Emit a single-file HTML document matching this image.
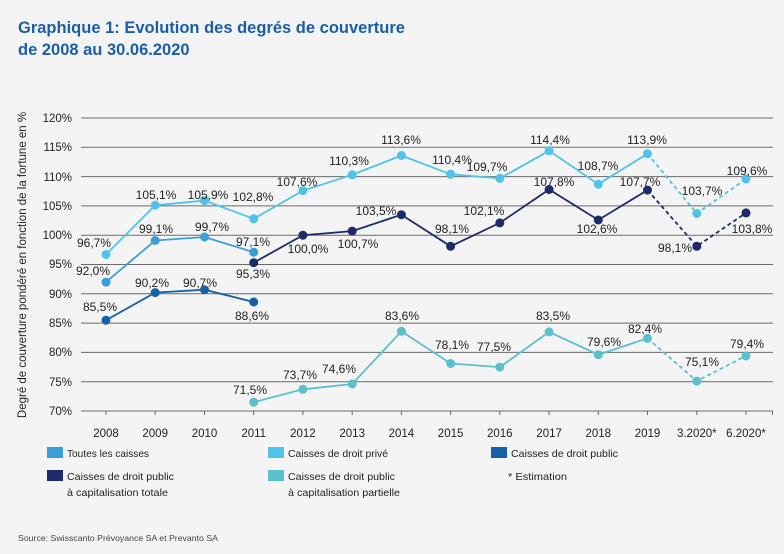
<!DOCTYPE html>
<html><head><meta charset="utf-8"><style>
html,body{margin:0;padding:0;background:#f4f4f4;}
body{width:784px;height:549px;overflow:hidden;font-family:"Liberation Sans",sans-serif;}
svg text{font-family:"Liberation Sans",sans-serif;}
</style></head><body>
<svg width="784" height="549" viewBox="0 0 784 549" xmlns="http://www.w3.org/2000/svg">
<rect width="784" height="549" fill="#f4f4f4"/>
<text x="18" y="33" font-size="16.5" font-weight="bold" fill="#1a5ea8">Graphique 1: Evolution des degrés de couverture</text>
<text x="18" y="55" font-size="16.5" font-weight="bold" fill="#1a5ea8">de 2008 au 30.06.2020</text>
<g stroke="#6a6a6a" stroke-width="1">
<line x1="81" x2="773" y1="118" y2="118"/><line x1="81" x2="773" y1="147.3" y2="147.3"/><line x1="81" x2="773" y1="176.6" y2="176.6"/><line x1="81" x2="773" y1="205.9" y2="205.9"/><line x1="81" x2="773" y1="235.2" y2="235.2"/><line x1="81" x2="773" y1="264.5" y2="264.5"/><line x1="81" x2="773" y1="293.8" y2="293.8"/><line x1="81" x2="773" y1="323.1" y2="323.1"/><line x1="81" x2="773" y1="352.4" y2="352.4"/><line x1="81" x2="773" y1="381.7" y2="381.7"/><line x1="81" x2="773" y1="411" y2="411"/>
<line x1="106" x2="106" y1="411" y2="415"/><line x1="155.2" x2="155.2" y1="411" y2="415"/><line x1="204.5" x2="204.5" y1="411" y2="415"/><line x1="253.7" x2="253.7" y1="411" y2="415"/><line x1="302.9" x2="302.9" y1="411" y2="415"/><line x1="352.2" x2="352.2" y1="411" y2="415"/><line x1="401.4" x2="401.4" y1="411" y2="415"/><line x1="450.6" x2="450.6" y1="411" y2="415"/><line x1="499.8" x2="499.8" y1="411" y2="415"/><line x1="549.1" x2="549.1" y1="411" y2="415"/><line x1="598.3" x2="598.3" y1="411" y2="415"/><line x1="647.5" x2="647.5" y1="411" y2="415"/><line x1="696.8" x2="696.8" y1="411" y2="415"/><line x1="746" x2="746" y1="411" y2="415"/><line x1="772.5" x2="772.5" y1="411" y2="415"/>
</g>
<g font-size="11.5" fill="#222" text-anchor="end">
<text x="72" y="122">120%</text><text x="72" y="151">115%</text><text x="72" y="181">110%</text><text x="72" y="210">105%</text><text x="72" y="239">100%</text><text x="72" y="268">95%</text><text x="72" y="298">90%</text><text x="72" y="327">85%</text><text x="72" y="356">80%</text><text x="72" y="386">75%</text><text x="72" y="415">70%</text>
</g>
<text transform="translate(26,265) rotate(-90)" font-size="11.5" fill="#222" text-anchor="middle">Degré de couverture pondéré en fonction de la fortune en %</text>
<g font-size="11.5" fill="#222" text-anchor="middle">
<text x="106" y="437">2008</text><text x="155.2" y="437">2009</text><text x="204.5" y="437">2010</text><text x="253.7" y="437">2011</text><text x="302.9" y="437">2012</text><text x="352.2" y="437">2013</text><text x="401.4" y="437">2014</text><text x="450.6" y="437">2015</text><text x="499.8" y="437">2016</text><text x="549.1" y="437">2017</text><text x="598.3" y="437">2018</text><text x="647.5" y="437">2019</text><text x="696.8" y="437">3.2020*</text><text x="746" y="437">6.2020*</text>
</g>
<g fill="none" stroke-width="1.8">
<polyline stroke="#4fc3e8" points="106,254.5 155.2,205.3 204.5,200.6 253.7,218.8 302.9,190.7 352.2,174.8 401.4,155.5 450.6,174.3 499.8,178.4 549.1,150.8 598.3,184.2 647.5,153.7"/>
<polyline stroke="#4fc3e8" stroke-dasharray="4,3" points="647.5,153.7 696.8,213.5 746,178.9"/>
<polyline stroke="#3a9fd8" points="106,282.1 155.2,240.5 204.5,237 253.7,252.2"/>
<polyline stroke="#1660a8" points="106,320.2 155.2,292.6 204.5,289.7 253.7,302"/>
<polyline stroke="#1f2a6b" points="253.7,262.7 302.9,235.2 352.2,231.1 401.4,214.7 450.6,246.3 499.8,222.9 549.1,189.5 598.3,220 647.5,190.1"/>
<polyline stroke="#1f2a6b" stroke-dasharray="4,3" points="647.5,190.1 696.8,246.3 746,212.9"/>
<polyline stroke="#5bc0cc" points="253.7,402.2 302.9,389.3 352.2,384 401.4,331.3 450.6,363.5 499.8,367.1 549.1,331.9 598.3,354.7 647.5,338.3"/>
<polyline stroke="#5bc0cc" stroke-dasharray="4,3" points="647.5,338.3 696.8,381.1 746,355.9"/>
</g>
<g fill="#4fc3e8"><circle cx="106" cy="254.5" r="4.5"/><circle cx="155.2" cy="205.3" r="4.5"/><circle cx="204.5" cy="200.6" r="4.5"/><circle cx="253.7" cy="218.8" r="4.5"/><circle cx="302.9" cy="190.7" r="4.5"/><circle cx="352.2" cy="174.8" r="4.5"/><circle cx="401.4" cy="155.5" r="4.5"/><circle cx="450.6" cy="174.3" r="4.5"/><circle cx="499.8" cy="178.4" r="4.5"/><circle cx="549.1" cy="150.8" r="4.5"/><circle cx="598.3" cy="184.2" r="4.5"/><circle cx="647.5" cy="153.7" r="4.5"/><circle cx="696.8" cy="213.5" r="4.5"/><circle cx="746" cy="178.9" r="4.5"/></g>
<g fill="#3a9fd8"><circle cx="106" cy="282.1" r="4.5"/><circle cx="155.2" cy="240.5" r="4.5"/><circle cx="204.5" cy="237" r="4.5"/><circle cx="253.7" cy="252.2" r="4.5"/></g>
<g fill="#1660a8"><circle cx="106" cy="320.2" r="4.5"/><circle cx="155.2" cy="292.6" r="4.5"/><circle cx="204.5" cy="289.7" r="4.5"/><circle cx="253.7" cy="302" r="4.5"/></g>
<g fill="#1f2a6b"><circle cx="253.7" cy="262.7" r="4.5"/><circle cx="302.9" cy="235.2" r="4.5"/><circle cx="352.2" cy="231.1" r="4.5"/><circle cx="401.4" cy="214.7" r="4.5"/><circle cx="450.6" cy="246.3" r="4.5"/><circle cx="499.8" cy="222.9" r="4.5"/><circle cx="549.1" cy="189.5" r="4.5"/><circle cx="598.3" cy="220" r="4.5"/><circle cx="647.5" cy="190.1" r="4.5"/><circle cx="696.8" cy="246.3" r="4.5"/><circle cx="746" cy="212.9" r="4.5"/></g>
<g fill="#5bc0cc"><circle cx="253.7" cy="402.2" r="4.5"/><circle cx="302.9" cy="389.3" r="4.5"/><circle cx="352.2" cy="384" r="4.5"/><circle cx="401.4" cy="331.3" r="4.5"/><circle cx="450.6" cy="363.5" r="4.5"/><circle cx="499.8" cy="367.1" r="4.5"/><circle cx="549.1" cy="331.9" r="4.5"/><circle cx="598.3" cy="354.7" r="4.5"/><circle cx="647.5" cy="338.3" r="4.5"/><circle cx="696.8" cy="381.1" r="4.5"/><circle cx="746" cy="355.9" r="4.5"/></g>
<g font-size="12" fill="#222" text-anchor="middle">
<text x="94" y="247">96,7%</text><text x="156" y="199">105,1%</text><text x="208" y="199">105,9%</text><text x="253" y="201">102,8%</text><text x="297" y="186">107,6%</text><text x="349" y="165">110,3%</text><text x="401" y="144">113,6%</text><text x="452" y="164">110,4%</text><text x="487" y="171">109,7%</text><text x="550" y="144">114,4%</text><text x="598" y="170">108,7%</text><text x="647" y="144">113,9%</text><text x="702" y="195">103,7%</text><text x="747" y="175">109,6%</text>
<text x="93" y="275">92,0%</text><text x="156" y="233">99,1%</text><text x="212" y="231">99,7%</text><text x="253" y="246">97,1%</text>
<text x="100" y="311">85,5%</text><text x="152" y="287">90,2%</text><text x="200" y="287">90,7%</text><text x="252" y="320">88,6%</text>
<text x="253" y="278">95,3%</text><text x="308" y="253">100,0%</text><text x="358" y="248">100,7%</text><text x="376" y="215">103,5%</text><text x="452" y="233">98,1%</text><text x="484" y="215">102,1%</text><text x="554" y="186">107,8%</text><text x="597" y="233">102,6%</text><text x="640" y="186">107,7%</text><text x="675" y="252">98,1%</text><text x="752" y="233">103,8%</text>
<text x="250" y="394">71,5%</text><text x="300" y="379">73,7%</text><text x="339" y="373">74,6%</text><text x="402" y="320">83,6%</text><text x="452" y="349">78,1%</text><text x="494" y="351">77,5%</text><text x="553" y="320">83,5%</text><text x="604" y="346">79,6%</text><text x="645" y="333">82,4%</text><text x="702" y="366">75,1%</text><text x="747" y="348">79,4%</text>
</g>
<rect x="47" y="447" width="16" height="11" fill="#3a9fd8"/>
<rect x="268" y="447" width="16" height="11" fill="#4fc3e8"/>
<rect x="491" y="447" width="16" height="11" fill="#1660a8"/>
<rect x="47" y="470" width="16" height="11" fill="#1f2a6b"/>
<rect x="268" y="470" width="16" height="11" fill="#5bc0cc"/>
<g font-size="10.5" fill="#222" font-family="Liberation Sans Narrow, Liberation Sans, sans-serif">
<text x="67" y="457" textLength="82" lengthAdjust="spacingAndGlyphs">Toutes les caisses</text>
<text x="288" y="457" textLength="100" lengthAdjust="spacingAndGlyphs">Caisses de droit privé</text>
<text x="511" y="457" textLength="107" lengthAdjust="spacingAndGlyphs">Caisses de droit public</text>
<text x="67" y="480" textLength="107" lengthAdjust="spacingAndGlyphs">Caisses de droit public</text>
<text x="67" y="496" textLength="101" lengthAdjust="spacingAndGlyphs">à capitalisation totale</text>
<text x="288" y="480" textLength="107" lengthAdjust="spacingAndGlyphs">Caisses de droit public</text>
<text x="288" y="496" textLength="112" lengthAdjust="spacingAndGlyphs">à capitalisation partielle</text>
<text x="508" y="480" textLength="59" lengthAdjust="spacingAndGlyphs">* Estimation</text>
</g>
<text x="18" y="541" font-size="8.5" fill="#444" textLength="200" lengthAdjust="spacingAndGlyphs">Source: Swisscanto Prévoyance SA et Prevanto SA</text>
</svg>
</body></html>
